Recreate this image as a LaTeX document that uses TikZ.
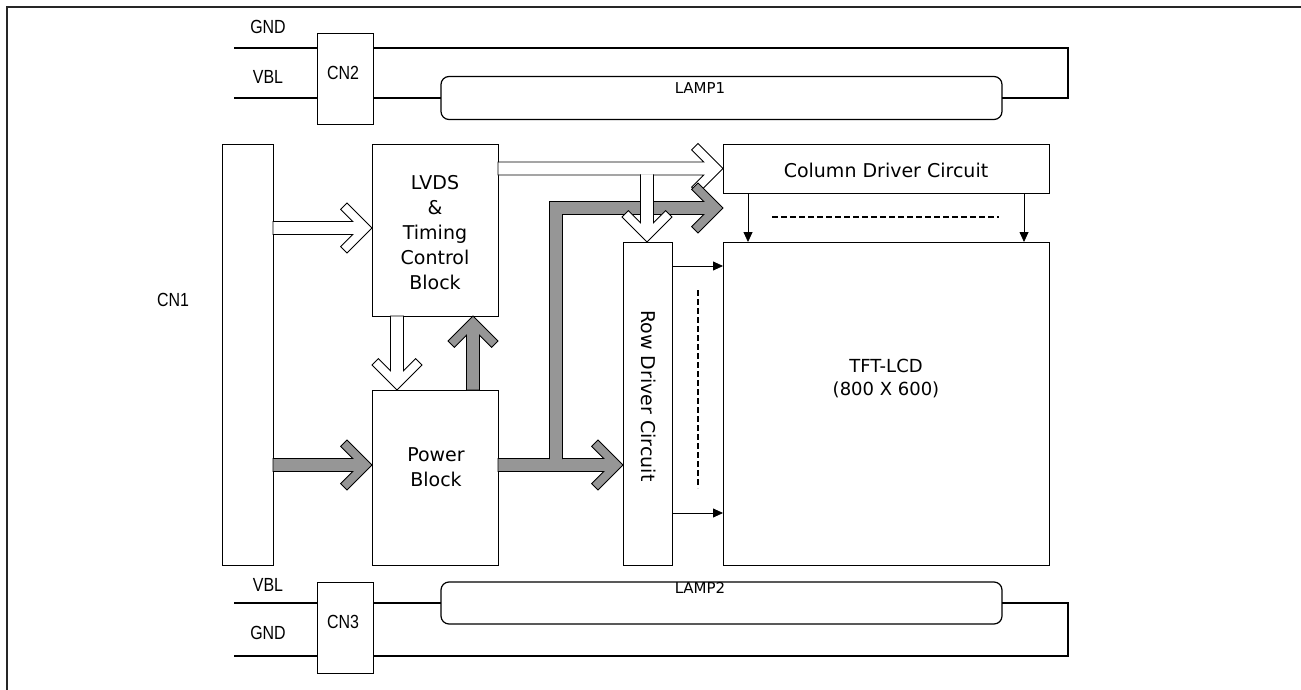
\documentclass[tikz,border=0pt]{standalone}
\usepackage{fontspec}
\setmainfont{DejaVu Sans}
\newfontfamily\narrowfont[FakeStretch=0.84]{Liberation Sans}
\usetikzlibrary{arrows.meta}
\definecolor{graybar}{RGB}{150,150,150}
\newcommand{\blockarrow}[4]{%
  \begin{scope}[shift={#2},rotate=#3]
    \filldraw[#1] (-#4,-6.5) -- (-19.2,-6.5) -- (-31.4,-18.6) -- (-25,-25) -- (0,0) -- (-25,25) -- (-31.4,18.6) -- (-19.2,6.5) -- (-#4,6.5) -- cycle;
  \end{scope}}
\begin{document}
\begin{tikzpicture}[x=1pt,y=-1pt,
  box/.style={draw, line width=0.9pt, inner sep=0pt, outer sep=0pt},
  lamp/.style={draw, line width=1.2pt, rounded corners=8pt, inner sep=0pt, outer sep=0pt},
  lab/.style={font=\fontsize{19}{25}\selectfont, align=center, inner sep=0pt},
  nlab/.style={font=\narrowfont\fontsize{19}{21}\selectfont, inner sep=0pt},
  wire/.style={line width=1.4pt},
  thinarrow/.style={line width=0.8pt, -{Triangle[length=10pt,width=9pt]}},
  dots/.style={line width=2pt, dash pattern=on 6pt off 3pt},
  hollow/.style={draw=black, fill=white, line width=0.8pt},
  grayarr/.style={draw=black, fill=graybar, line width=0.8pt}]
\useasboundingbox (0,0) rectangle (1301,690);
% frame
\draw[line width=1.6pt, black!85] (7,690) -- (7,7) -- (1301,7);

% top lamp assembly
\node[box, minimum width=56pt, minimum height=91pt] (cn2) at (345,78.5) {};
\node[nlab] (cn2t) at (343,73) {CN2};
\node[lamp, minimum width=561pt, minimum height=43pt] (lamp1) at (721.5,98) {};
\node[lab, font=\fontsize{15}{18}\selectfont] (lamp1t) at (700,88) {LAMP1};
\coordinate (gndA) at (234,48);
\coordinate (vblA) at (234,98);
\coordinate (rtA) at (1068,48);
\coordinate (rtB) at (1068,98);
\draw[wire] (gndA) -- (gndA -| cn2.west);
\draw[wire] (vblA) -- (vblA -| cn2.west);
\draw[wire] (cn2.east |- rtA) -- (rtA) -- (rtB) -- (lamp1.east |- rtB);
\draw[wire] (cn2.east |- lamp1.west) -- (lamp1.west);
\node[nlab] (gndAt) at (268,27) {GND};
\node[nlab] (vblAt) at (268,77) {VBL};

% bottom lamp assembly
\node[box, minimum width=56pt, minimum height=91pt] (cn3) at (345,627.5) {};
\node[nlab] (cn3t) at (343,622) {CN3};
\node[lamp, minimum width=561pt, minimum height=42pt] (lamp2) at (721.5,603) {};
\node[lab, font=\fontsize{15}{18}\selectfont] (lamp2t) at (700,588) {LAMP2};
\coordinate (vblB) at (234,603);
\coordinate (gndB) at (234,656);
\coordinate (rtC) at (1068,603);
\coordinate (rtD) at (1068,656);
\draw[wire] (vblB) -- (vblB -| cn3.west);
\draw[wire] (gndB) -- (gndB -| cn3.west);
\draw[wire] (cn3.east |- lamp2.west) -- (lamp2.west);
\draw[wire] (lamp2.east) -- (rtC) -- (rtD) -- (cn3.east |- rtD);
\node[nlab] (vblBt) at (268,585) {VBL};
\node[nlab] (gndBt) at (268,633) {GND};

% main blocks
\node[box, minimum width=51pt, minimum height=421pt] (cn1) at (247.5,354.5) {};
\node[nlab] (cn1t) at (173,300) {CN1};
\node[box, minimum width=126pt, minimum height=172pt] (lvds) at (435,230) {};
\node[lab] (lvdst) at (435,233) {LVDS\\\&\\Timing\\Control\\Block};
\node[box, minimum width=126pt, minimum height=175pt] (power) at (435,477.5) {};
\node[lab] (powert) at (436,467) {Power\\Block};
\node[box, minimum width=326pt, minimum height=49pt] (col) at (886,168.5) {};
\node[lab] (colt) at (886,170) {Column Driver Circuit};
\node[box, minimum width=326pt, minimum height=323pt] (tft) at (886,403.5) {};
\node[lab, font=\fontsize{18}{23}\selectfont] (tftt) at (886,379) {TFT-LCD\\(800 X 600)};
\node[box, minimum width=49pt, minimum height=323pt] (row) at (647.5,403.5) {};
\node[lab, rotate=-90] (rowt) at (649,396) {Row Driver Circuit};

% thin arrows and dashed lines
\draw[thinarrow] (col.south -| 748,0) -- (tft.north -| 748,0);
\draw[thinarrow] (col.south -| 1024,0) -- (tft.north -| 1024,0);
\draw[thinarrow] (row.east |- 0,266) -- (tft.west |- 0,266);
\draw[thinarrow] (row.east |- 0,513) -- (tft.west |- 0,513);
\coordinate (dhA) at (772,217);
\coordinate (dhB) at (999,217);
\draw[dots] (dhA) -- (dhB);
\coordinate (dvA) at (698,290);
\coordinate (dvB) at (698,488);
\draw[dots] (dvA) -- (dvB);

% block arrows
\blockarrow{hollow}{(lvds.west |- 0,228)}{0}{99}
\blockarrow{grayarr}{(power.west |- 0,465)}{0}{99}
\blockarrow{hollow}{(power.north -| 397,0)}{-90}{74}
\blockarrow{grayarr}{(lvds.south -| 473,0)}{90}{74}
\blockarrow{grayarr}{(row.west |- 0,465)}{0}{125}
\blockarrow{hollow}{(col.west |- 0,168.5)}{0}{225}
% gray branch up and right to column driver
\filldraw[grayarr] (549.5,459.2) -- (549.5,201.5) -- (703.8,201.5) -- (691.6,189.4) -- (698,183) -- (723,208) -- (698,233) -- (691.6,226.6) -- (703.8,214.5) -- (562.5,214.5) -- (562.5,459.2);
% hollow branch down to row driver
\filldraw[hollow] (640.5,174.3) -- (640.5,222.8) -- (628.4,210.6) -- (622,217) -- (647,242) -- (672,217) -- (665.6,210.6) -- (653.5,222.8) -- (653.5,174.3);
\end{tikzpicture}
\end{document}
